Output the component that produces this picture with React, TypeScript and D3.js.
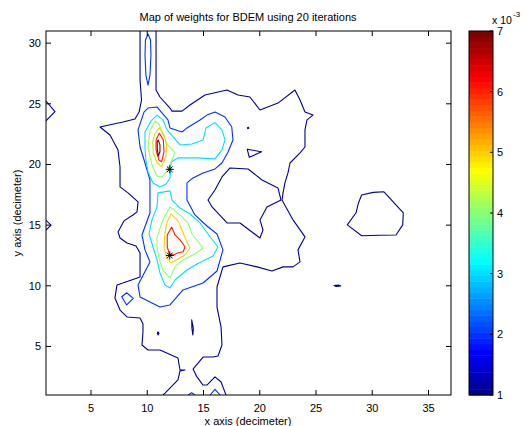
import React from "react";
import * as d3 from "d3";

const W = 524;
const H = 426;

const xTicks = [5, 10, 15, 20, 25, 30, 35];
const yTicks = [5, 10, 15, 20, 25, 30];
const cbTicks = [1, 2, 3, 4, 5, 6, 7];
const levels = [1, 2, 3, 4, 5, 6, 7]; // x 1e-3

// ---- level 1 (x1e-3) contours ----
const l1Left = [
  [9.36, 31], [9.36, 26.96], [9.49, 25.31], [9.27, 24.32], [8.91, 23.75], [7.84, 23.5], [5.8, 23.09],
  [6.69, 22.43], [7.4, 21.2], [7.58, 19.79], [7.58, 18.15], [8.29, 17.66], [9.18, 16.91], [9.09, 16.09],
  [8.73, 15.84], [7.93, 15.35], [7.4, 14.44], [7.58, 13.94], [8.2, 13.53], [9.0, 13.28], [9.36, 12.71],
  [9.36, 12.13], [9.36, 10.73], [7.84, 10.23], [7.31, 10.07], [7.13, 9.0], [7.58, 8.0], [8.2, 7.43],
  [9.36, 7.34], [9.62, 6.85], [9.62, 6.19], [9.53, 5.12], [10.07, 4.71], [11.13, 4.71], [12.73, 4.05],
  [12.91, 3.06], [13.36, 3.06], [12.91, 2.98], [12.73, 2.24], [11.58, 1.16], [11.4, 1.0],
];
const l1Right = [
  [10.78, 31], [10.78, 26.14], [11.13, 25.56], [12.02, 24.65], [12.2, 24.4], [13.09, 24.4], [13.8, 24.9],
  [15.13, 25.72], [17.09, 26.14], [18.07, 25.72], [19.13, 25.56], [20.02, 24.49], [21.62, 25.06],
  [23.13, 26.14], [23.58, 25.31], [24.02, 24.32], [24.73, 24.07], [24.2, 23.67], [24.02, 22.85],
  [24.02, 21.44], [23.58, 20.95], [22.69, 20.12], [22.51, 19.3], [22.24, 18.48], [22.07, 17.66],
  [21.98, 17.07], [22.96, 15.43], [24.02, 14.03], [23.4, 12.96], [23.58, 11.97], [22.96, 11.56],
  [22.07, 11.56], [21.09, 11.22], [19.76, 11.56], [18.24, 11.88], [16.73, 11.56], [16.2, 9.9],
  [16.2, 8.25], [16.56, 6.6], [16.64, 5.12], [16.29, 4.21], [15.84, 4.13], [14.96, 4.13], [14.07, 3.14],
  [14.42, 2.49], [14.96, 1.82], [15.31, 1.82], [16.02, 2.49], [16.56, 2.07], [17.0, 1.0],
];
const l1Hole = [
  [21.89, 17.07], [21.62, 18.07], [20.2, 18.72], [18.96, 19.63], [17.36, 19.71], [16.64, 18.97],
  [16.02, 17.9], [15.4, 17.07], [15.76, 16.5], [17.09, 15.18], [18.24, 15.18], [20.02, 13.94],
  [20.29, 14.6], [20.02, 15.43], [20.64, 16.5],
];
const l1EdgeA = [[1, 25.23], [1.8, 24.35], [1, 23.6]];
const l1EdgeB = [[1, 15.4], [1.45, 15.0], [1, 14.6]];
const l1Island = [
  [29.06, 17.49], [30.09, 17.7], [31.04, 17.75], [32.76, 16.02], [32.71, 15.02], [32.11, 14.19],
  [30.69, 14.16], [29.06, 14.13], [27.78, 15.02], [28.56, 16.02], [28.76, 16.8],
];
const l1Dash = [[26.6, 10.02], [27.0, 10.06], [27.2, 9.99], [26.8, 9.95]];
const l1Dot = [[18.9, 23.03], [19.0, 23.06], [19.03, 22.98], [18.93, 22.95]];
const l1Tri = [[18.89, 21.25], [20.17, 21.05], [19.07, 20.59]];
const l1Speck = [[10.95, 6.2], [11.05, 6.1], [10.97, 5.95], [10.9, 6.08]];
const l1Sliver = [[13.95, 7.2], [14.1, 6.5], [14.05, 5.95], [13.97, 6.5]];

// ---- level 2 ----
const l2Column = [
  [10.07, 30.75], [10.29, 30.26], [10.33, 29.02], [10.24, 27.37], [10.07, 26.54], [9.88, 27.37],
  [9.8, 29.02], [9.84, 30.26],
];
const l2Ring = [
  [9.71, 24.32], [10.07, 24.65], [10.87, 24.73], [11.84, 23.67], [12.02, 23.01], [13.09, 22.68],
  [13.53, 23.01], [14.69, 23.67], [15.31, 24.07], [16.02, 24.32], [16.91, 23.91], [17.51, 23.09],
  [17.62, 22.02], [17.18, 21.03], [16.64, 20.12], [16.02, 19.63], [14.96, 19.3], [14.07, 18.89],
  [13.53, 18.48], [13.53, 17.07], [14.24, 15.84], [15.31, 14.93], [16.2, 14.27], [16.73, 12.96],
  [16.2, 11.22], [14.96, 10.23], [13.18, 9.66], [12.02, 8.42], [11.13, 8.25], [9.36, 9.08],
  [9.18, 10.07], [10.24, 11.97], [9.8, 12.96], [9.53, 14.19], [10.24, 16.0], [10.24, 17.33],
  [10.24, 18.72], [9.8, 20.12], [9.36, 21.44], [9.18, 22.85],
];
const l2Diamond = [[7.73, 9.1], [8.17, 9.43], [8.76, 8.97], [8.17, 8.42]];
const l2BottomA = [[13.64, 1], [13.94, 1.19], [14.24, 1]];
const l2BottomB = [[15.58, 1], [16.02, 1.47], [16.47, 1]];

// ---- level 3 ----
const l3Upper = [
  [9.8, 22.68], [10.33, 23.58], [10.87, 24.07], [11.4, 23.67], [11.76, 22.85], [12.38, 22.19],
  [12.91, 21.61], [13.98, 21.69], [14.96, 22.02], [15.22, 23.01], [16.02, 23.45], [16.64, 22.85],
  [16.91, 22.02], [16.64, 21.2], [16.02, 20.46], [14.42, 20.54], [12.73, 20.54], [12.11, 20.21],
  [12.02, 18.89], [11.67, 18.39], [11.13, 18.15], [10.51, 18.48], [10.07, 19.38], [9.88, 20.37],
  [9.8, 21.36],
];
const l3Lower = [
  [10.96, 17.66], [12.02, 17.82], [12.2, 17.07], [12.91, 16.41], [13.8, 15.92], [14.69, 15.18],
  [15.4, 14.27], [16.29, 13.2], [15.84, 12.46], [14.42, 11.8], [13.53, 11.3], [12.47, 10.48],
  [12.02, 9.82], [11.58, 10.07], [11.13, 11.06], [10.87, 12.13], [10.51, 13.2], [10.16, 14.27],
  [10.42, 15.43], [10.87, 16.5],
];

// ---- level 4 ----
const l4Upper = [
  [10.69, 23.58], [11.04, 23.34], [11.4, 22.52], [11.76, 21.69], [12.47, 20.95], [12.11, 20.21],
  [11.76, 19.46], [11.31, 18.97], [10.87, 19.05], [10.42, 19.96], [10.07, 21.36], [10.24, 22.76],
];
const l4Lower = [
  [12.02, 16.5], [12.91, 15.84], [13.62, 15.18], [13.98, 14.27], [14.96, 13.12], [14.24, 12.63],
  [13.18, 12.13], [12.47, 11.56], [12.02, 10.64], [11.4, 11.3], [11.13, 11.97], [10.87, 13.12],
  [10.87, 14.03], [11.4, 15.43],
];

// ---- level 5 ----
const l5Upper = [
  [11.07, 23.02], [11.49, 22.43], [11.72, 21.61], [11.66, 20.65], [11.28, 19.82], [10.89, 20.1],
  [10.54, 20.93], [10.48, 21.88], [10.69, 22.57],
];
const l5Lower = [
  [12.11, 15.92], [12.73, 15.35], [13.09, 14.6], [13.44, 13.78], [13.8, 13.12], [13.36, 12.54],
  [12.73, 12.21], [12.11, 11.88], [11.76, 12.29], [11.49, 13.12], [11.58, 14.44], [11.76, 15.26],
];

// ---- level 6 ----
const l6Upper = [
  [11.07, 22.58], [11.43, 22.02], [11.49, 21.05], [11.28, 20.23], [11.04, 20.37], [10.78, 21.2],
  [10.78, 22.02],
];
const l6Lower = [
  [12.17, 14.85], [12.47, 14.19], [12.91, 13.78], [13.36, 13.22], [13.2, 12.81], [12.76, 12.72],
  [12.31, 12.54], [11.96, 12.62], [11.78, 13.22], [11.78, 14.19],
];

// ---- level 7 ----
const l7Upper = [
  [10.98, 22.02], [11.13, 21.61], [11.13, 21.05], [10.98, 20.69], [10.89, 21.33], [10.89, 21.88],
];

const stars = [[12, 19.6], [12, 12.5]];

const contours = [
  { level: 1, closed: false, pts: l1Left },
  { level: 1, closed: false, pts: l1Right },
  { level: 1, closed: true, pts: l1Hole },
  { level: 1, closed: false, pts: l1EdgeA },
  { level: 1, closed: false, pts: l1EdgeB },
  { level: 1, closed: true, pts: l1Island },
  { level: 1, closed: true, pts: l1Dash },
  { level: 1, closed: true, pts: l1Dot },
  { level: 1, closed: true, pts: l1Tri },
  { level: 1, closed: true, pts: l1Speck },
  { level: 1, closed: true, pts: l1Sliver },
  { level: 2, closed: true, pts: l2Column },
  { level: 2, closed: true, pts: l2Ring },
  { level: 2, closed: true, pts: l2Diamond },
  { level: 2, closed: false, pts: l2BottomA },
  { level: 2, closed: false, pts: l2BottomB },
  { level: 3, closed: true, pts: l3Upper },
  { level: 3, closed: true, pts: l3Lower },
  { level: 4, closed: true, pts: l4Upper },
  { level: 4, closed: true, pts: l4Lower },
  { level: 5, closed: true, pts: l5Upper },
  { level: 5, closed: true, pts: l5Lower },
  { level: 6, closed: true, pts: l6Upper },
  { level: 6, closed: true, pts: l6Lower },
  { level: 7, closed: true, pts: l7Upper },
];

// MATLAB jet(64), 1-based row
function jetRow(row: number): string {
  let r = 0, g = 0, b = 0;
  if (row >= 9 && row <= 24) g = (row - 8) / 16;
  else if (row >= 25 && row <= 39) g = 1;
  else if (row >= 40 && row <= 55) g = (56 - row) / 16;
  if (row >= 25 && row <= 40) r = (row - 24) / 16;
  else if (row >= 41 && row <= 55) r = 1;
  else if (row >= 56) r = (72 - row) / 16;
  if (row <= 8) b = (row + 8) / 16;
  else if (row <= 23) b = 1;
  else if (row <= 39) b = (40 - row) / 16;
  return d3.rgb(r * 255, g * 255, b * 255).formatHex();
}
const jet = d3.range(1, 65).map(jetRow);
const cmin = levels[0], cmax = levels[levels.length - 1];
const levelColor = (L: number) =>
  jet[Math.min(63, Math.floor(((L - cmin) / (cmax - cmin)) * 64))];

const FONT = "'Liberation Sans', Arial, Helvetica, sans-serif";

export default function App() {
  const x = d3.scaleLinear().domain([1, 37]).range([46, 451]);
  const y = d3.scaleLinear().domain([1, 31]).range([395, 31]);
  const cb = d3.scaleLinear().domain([cmin, cmax]).range([395, 31]);
  const cbX0 = 469, cbX1 = 493;

  const lineOpen = d3.line<number[]>().x((d) => x(d[0])).y((d) => y(d[1])).curve(d3.curveLinear);
  const lineClosed = d3.line<number[]>().x((d) => x(d[0])).y((d) => y(d[1])).curve(d3.curveLinearClosed);

  const tl = 5;
  const bandStep = (cmax - cmin) / 64;

  return (
    <div style={{ position: "fixed", left: 0, top: 0, width: W, height: H, background: "#fff" }}>
      <svg width={W} height={H} style={{ display: "block" }} fontFamily={FONT}>
        <rect width={W} height={H} fill="#fff" />
        <defs>
          <clipPath id="plotclip">
            <rect x={46} y={31} width={405} height={364} />
          </clipPath>
        </defs>
        <g clipPath="url(#plotclip)">
          {contours.map((c, i) => (
            <path
              key={i}
              d={(c.closed ? lineClosed : lineOpen)(c.pts) || ""}
              fill="none"
              stroke={levelColor(c.level)}
              strokeWidth={1.1}
              strokeLinejoin="round"
            />
          ))}
          {stars.map((s, i) => {
            const cx = x(s[0]);
            const cy = y(s[1]);
            const r = 4;
            const rd = r * 0.72;
            return (
              <g key={i} stroke="#000" strokeWidth={1}>
                <line x1={cx - r} y1={cy} x2={cx + r} y2={cy} />
                <line x1={cx} y1={cy - r} x2={cx} y2={cy + r} />
                <line x1={cx - rd} y1={cy - rd} x2={cx + rd} y2={cy + rd} />
                <line x1={cx - rd} y1={cy + rd} x2={cx + rd} y2={cy - rd} />
              </g>
            );
          })}
        </g>
        {/* axes box */}
        <rect x={46} y={31} width={405} height={364} fill="none" stroke="#000" strokeWidth={1} />
        {xTicks.map((t) => (
          <g key={"x" + t}>
            <line x1={x(t)} x2={x(t)} y1={395} y2={395 - tl} stroke="#000" />
            <line x1={x(t)} x2={x(t)} y1={31} y2={31 + tl} stroke="#000" />
            <text x={x(t)} y={412} fontSize={11} textAnchor="middle" fill="#000">
              {t}
            </text>
          </g>
        ))}
        {yTicks.map((t) => (
          <g key={"y" + t}>
            <line x1={46} x2={46 + tl} y1={y(t)} y2={y(t)} stroke="#000" />
            <line x1={451} x2={451 - tl} y1={y(t)} y2={y(t)} stroke="#000" />
            <text x={41} y={y(t) + 4} fontSize={11} textAnchor="end" fill="#000">
              {t}
            </text>
          </g>
        ))}
        <text x={248} y={21} fontSize={11} textAnchor="middle" fill="#000">
          Map of weights for BDEM using 20 iterations
        </text>
        <text x={248} y={425} fontSize={11} textAnchor="middle" fill="#000">
          x axis (decimeter)
        </text>
        <text
          transform={`translate(21,${213}) rotate(-90)`}
          fontSize={11}
          textAnchor="middle"
          fill="#000"
        >
          y axis (decimeter)
        </text>

        {/* colorbar */}
        {jet.map((c, i) => {
          const v0 = cmin + i * bandStep;
          const v1 = v0 + bandStep;
          return (
            <rect
              key={"cb" + i}
              x={cbX0}
              y={cb(v1)}
              width={cbX1 - cbX0}
              height={cb(v0) - cb(v1) + 0.5}
              fill={c}
            />
          );
        })}
        <rect x={cbX0} y={31} width={cbX1 - cbX0} height={364} fill="none" stroke="#000" />
        {cbTicks.map((t) => (
          <g key={"cb" + t}>
            <line x1={cbX1} x2={cbX1 - 3} y1={cb(t)} y2={cb(t)} stroke="#000" />
            <text x={497} y={cb(t) + 4} fontSize={11} fill="#000">
              {t}
            </text>
          </g>
        ))}
        <text x={492} y={24} fontSize={10.5} fill="#000">
          x 10
        </text>
        <text x={513} y={17} fontSize={8} fill="#000">
          -3
        </text>
      </svg>
    </div>
  );
}
